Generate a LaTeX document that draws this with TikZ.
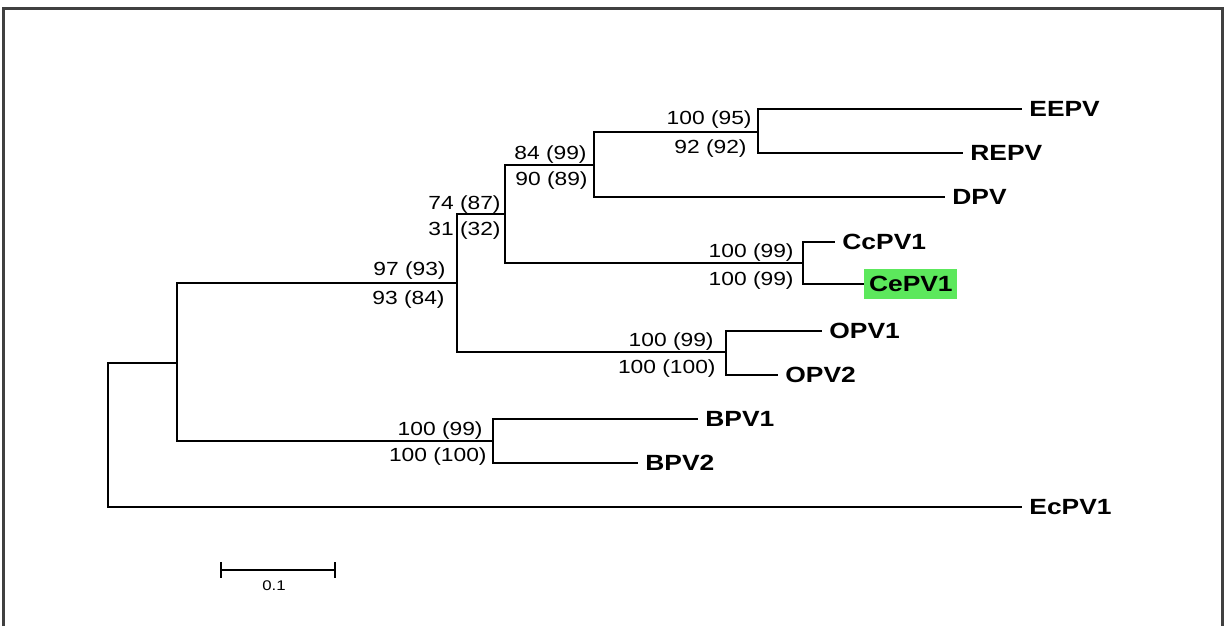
\documentclass[tikz,border=0pt]{standalone}
\usepackage{fontspec}
\setmainfont{Liberation Sans}[FakeStretch=1.2]
\usepackage{tikz}
\usetikzlibrary{positioning}
\definecolor{cegreen}{RGB}{92,232,92}

\begin{document}
\begin{tikzpicture}[x=0.5pt,y=-0.5pt,
  branch/.style={line width=1pt,black},
  taxon/.style={anchor=west,inner xsep=3.5pt,inner ysep=0pt,font=\fontsize{11}{13}\selectfont\bfseries},
  boot/.style={anchor=base east,inner sep=0pt,font=\fontsize{9.5}{11}\selectfont}]
\useasboundingbox (0,0) rectangle (1225,626);
\draw[line width=1.5pt,black!75] (3,626) -- (3,9) -- (1222,9) -- (1222,626);

\coordinate (root) at (108,435);
\coordinate (nA) at (177,363);
\coordinate (nB) at (457,283);
\coordinate (nC) at (505,214);
\coordinate (nD) at (594,165);
\coordinate (nE) at (758,132);
\coordinate (nF) at (803,263);
\coordinate (nOPV) at (726,352);
\coordinate (nBPV) at (493,441);

\node[taxon] (eepv) at (1022,109) {EEPV};
\node[taxon] (repv) at (963,153) {REPV};
\node[taxon] (dpv) at (945,197) {DPV};
\node[taxon] (ccpv) at (835,242) {CcPV1};
\node[taxon,fill=cegreen,inner xsep=2.3pt,minimum height=15pt] (cepv) at (864,284) {CePV1};
\node[taxon] (opv1) at (822,331) {OPV1};
\node[taxon] (opv2) at (778,375) {OPV2};
\node[taxon] (bpv1) at (698,419) {BPV1};
\node[taxon] (bpv2) at (638,463) {BPV2};
\node[taxon] (ecpv) at (1022,507) {EcPV1};

\draw[branch] (root) |- (nA);
\draw[branch] (root) |- (ecpv.west);
\draw[branch] (nA) |- (nB);
\draw[branch] (nA) |- (nBPV);
\draw[branch] (nB) |- (nC);
\draw[branch] (nB) |- (nOPV);
\draw[branch] (nC) |- (nD);
\draw[branch] (nC) |- (nF);
\draw[branch] (nD) |- (nE);
\draw[branch] (nD) |- (dpv.west);
\draw[branch] (nE) |- (eepv.west);
\draw[branch] (nE) |- (repv.west);
\draw[branch] (nF) |- (ccpv.west);
\draw[branch] (nF) |- (cepv.west);
\draw[branch] (nOPV) |- (opv1.west);
\draw[branch] (nOPV) |- (opv2.west);
\draw[branch] (nBPV) |- (bpv1.west);
\draw[branch] (nBPV) |- (bpv2.west);

\node[boot] (lE1) at (752,125) {100 (95)};
\node[boot] (lE2) at (747,154) {92 (92)};
\node[boot] (lD1) at (587,159) {84 (99)};
\node[boot] (lD2) at (588,185) {90 (89)};
\node[boot] (lC1) at (501,209) {74 (87)};
\node[boot] (lC2) at (501,235) {31 (32)};
\node[boot] (lF1) at (794,257) {100 (99)};
\node[boot] (lF2) at (794,285) {100 (99)};
\node[boot] (lB1) at (446,275) {97 (93)};
\node[boot] (lB2) at (445,304) {93 (84)};
\node[boot] (lO1) at (714,346) {100 (99)};
\node[boot] (lO2) at (716,373) {100 (100)};
\node[boot] (lP1) at (483,435) {100 (99)};
\node[boot] (lP2) at (487,461) {100 (100)};

\coordinate (sb1) at (221,570);
\coordinate (sb2) at (335,570);
\draw[branch] (sb1) -- (sb2);
\draw[branch] ([yshift=4pt]sb1) -- ([yshift=-4pt]sb1);
\draw[branch] ([yshift=4pt]sb2) -- ([yshift=-4pt]sb2);
\node[font=\fontsize{7}{8}\selectfont,inner sep=0pt] (sbl) at (274,586) {0.1};
\end{tikzpicture}
\end{document}
